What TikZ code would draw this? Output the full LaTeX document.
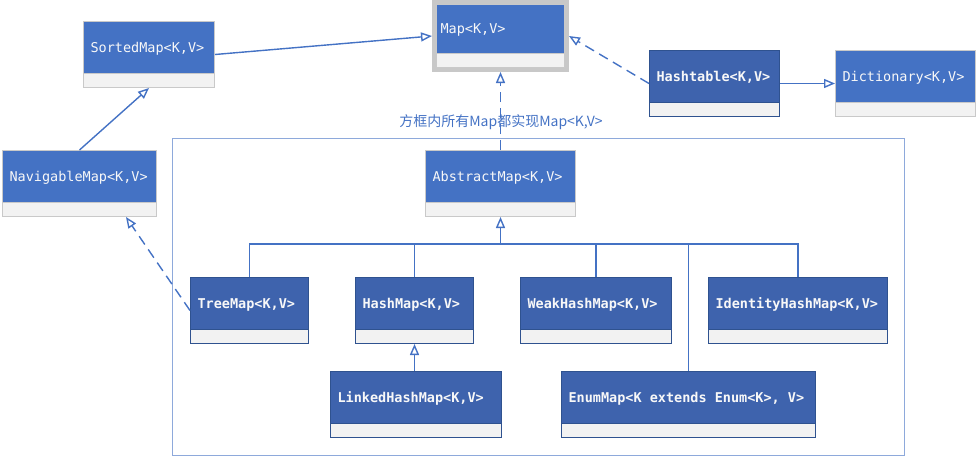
\documentclass[tikz,border=0pt]{standalone}
\usepackage{fontspec}
\setmonofont{DejaVu Sans Mono}
\newfontfamily\cjkfont{Noto Sans CJK SC}
\usetikzlibrary{arrows.meta,fit,calc}
\definecolor{lightblue}{HTML}{4472C4}
\definecolor{darkblue}{HTML}{3E63AD}
\definecolor{darkedge}{HTML}{2F528F}
\definecolor{greyedge}{HTML}{C9C9C9}
\definecolor{compfill}{HTML}{F2F2F2}
\definecolor{framecol}{HTML}{8EA9DB}
\definecolor{txtcol}{HTML}{F8F8F8}
\definecolor{selframe}{HTML}{C8C8C8}
\newcommand\msp{\hphantom{x}}
\tikzset{
  umlbase/.style={anchor=north west, inner xsep=7pt, inner ysep=0pt, align=left,
    text=txtcol, line width=1pt, text height=31pt, text depth=35pt,
    path picture={\fill[compfill] (path picture bounding box.south west) rectangle ([yshift=14pt]path picture bounding box.south east);
      \draw[#1, line width=1pt] ([yshift=14pt]path picture bounding box.south west) -- ([yshift=14pt]path picture bounding box.south east);}},
  umllight/.style={umlbase=greyedge, fill=lightblue, draw=greyedge, font=\ttfamily\fontsize{13.5}{14}\selectfont},
  umldark/.style={umlbase=darkedge, fill=darkblue, draw=darkedge, font=\ttfamily\bfseries\fontsize{13.5}{14}\selectfont},
  conn/.style={draw=lightblue, line width=1.4pt},
  hollowtip/.style={-{Triangle[open, length=11pt, width=9pt, line width=1.4pt]}},
  dashconn/.style={conn, dash pattern=on 10pt off 6pt},
}
\begin{document}
\begin{tikzpicture}[x=1pt, y=-1pt]
\useasboundingbox (0,0) rectangle (979,458);
% group frame and note
\node[draw=framecol, line width=1.4pt, minimum width=732pt, minimum height=317pt, anchor=north west, inner sep=0pt] (group) at (172,138) {};
\node[text=lightblue, font=\cjkfont\fontsize{14}{15}\selectfont, inner sep=0pt] (note) at (501,122) {方框内所有Map都实现Map<K,V>};
% class boxes
\node[umllight, text width=117pt] (sorted) at (83,21) {SortedMap<K,V>};
\node[umllight, text width=140pt] (nav) at (2,150) {NavigableMap<K,V>};
\node[umllight, text width=120pt, inner xsep=4pt, text height=29pt, text depth=34pt] (map) at (436,4) {Map<K,V>};
\node[fit=(map), inner sep=2pt, draw=selframe, line width=4pt] (mapframe) {};
\node[umldark, text width=116pt] (hasht) at (649,50) {Hashtable<K,V>};
\node[umllight, text width=126pt] (dict) at (835,50) {Dictionary<K,V>};
\node[umllight, text width=136pt] (abstract) at (425,150) {AbstractMap<K,V>};
\node[umldark, text width=104pt] (tree) at (190,277) {TreeMap<K,V>};
\node[umldark, text width=104pt] (hash) at (355,277) {HashMap<K,V>};
\node[umldark, text width=137pt] (weak) at (520,277) {WeakHashMap<K,V>};
\node[umldark, text width=165pt] (ident) at (708,277) {IdentityHashMap<K,V>};
\node[umldark, text width=157pt] (linked) at (330,371) {LinkedHashMap<K,V>};
\node[umldark, text width=240pt] (enum) at (561,371) {EnumMap<K\msp extends\msp Enum<K>,\msp V>};
% connectors
\draw[conn, hollowtip] (nav.north) -- (sorted.south);
\draw[conn, hollowtip] (sorted.east) -- (mapframe.west);
\draw[dashconn, hollowtip] (hasht.west) -- (mapframe.east);
\draw[conn, hollowtip] (hasht.east) -- (dict.west);
\draw[dashconn, hollowtip] (abstract.north) -- (mapframe.south);
\draw[dashconn, hollowtip] (tree.west) -- ($(nav.south east)!0.2!(nav.south west)$);
\coordinate (bus) at (500,244);
\draw[conn, hollowtip] (abstract.south |- bus) -- (abstract.south);
\draw[conn] (tree.north) -- (tree.north |- bus) -- (ident.north |- bus) -- (ident.north);
\draw[conn] (hash.north) -- (hash.north |- bus);
\draw[conn] (weak.north) -- (weak.north |- bus);
\draw[conn] (enum.north) -- (enum.north |- bus);
\draw[conn, hollowtip] (hash.south |- linked.north) -- (hash.south);
\end{tikzpicture}
\end{document}
